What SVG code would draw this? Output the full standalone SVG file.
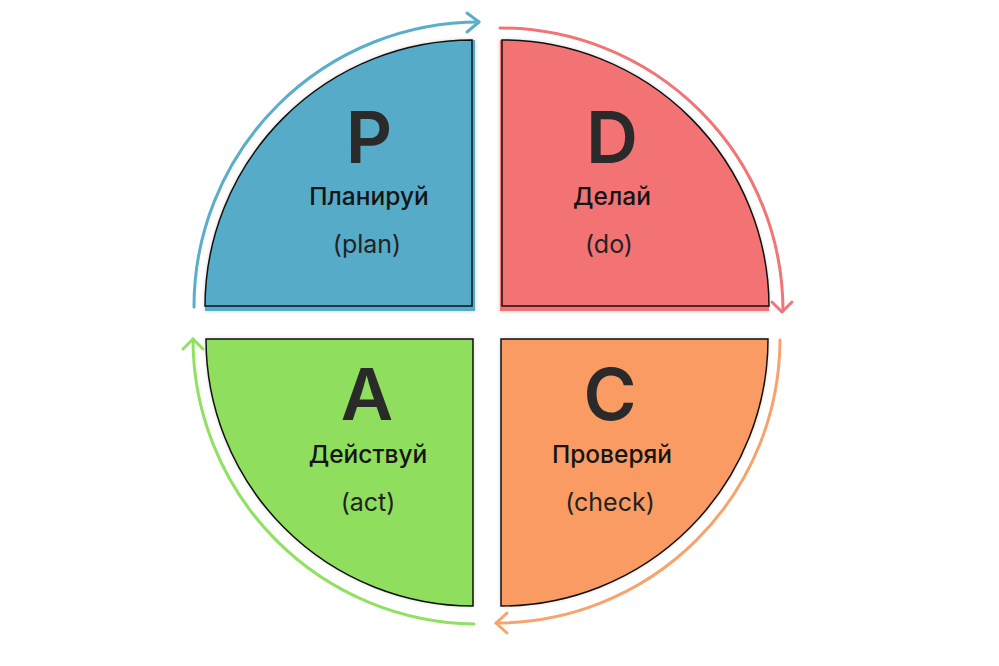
<svg xmlns="http://www.w3.org/2000/svg" width="999" height="666" viewBox="0 0 999 666">
<defs>
<filter id="sh" x="-10%" y="-10%" width="120%" height="120%">
<feDropShadow dx="0" dy="0" stdDeviation="2" flood-color="#000" flood-opacity="0.2"/>
</filter>
</defs>
<style>
.ol{fill:none;stroke:#111;stroke-width:1.5}
.big{font-family:Inter,"Liberation Sans",sans-serif;font-weight:600;font-size:72px;fill:#2a2a2a;text-anchor:middle}
.ru{font-family:Inter,"Liberation Sans",sans-serif;font-weight:500;font-size:24.5px;fill:#151515;text-anchor:middle}
.en{font-family:Inter,"Liberation Sans",sans-serif;font-weight:400;font-size:25px;fill:#222;text-anchor:middle}
.arr{fill:none;stroke-width:3;stroke-linecap:round;stroke-linejoin:round}
</style>
<rect width="999" height="666" fill="#fff"/>
<g id="node-p">
<g fill="#57abc9" filter="url(#sh)">
<path d="M472,306 L205,306 A267,267 0 0 1 472,40 Z"/>
<path d="M475,311 L205,311 L205,306 A267,267 0 0 1 475,40 Z"/>
</g>
<path class="ol" d="M472,306 L205,306 A267,267 0 0 1 472,40 Z"/>
<text class="big" x="369" y="163">P</text>
<text class="ru" x="369" y="205">Планируй</text>
<text class="en" x="367" y="253">(plan)</text>
</g>
<g id="node-d">
<g fill="#f37374" filter="url(#sh)">
<path d="M502,306 L502,40 A267,267 0 0 1 769,306 Z"/>
<path d="M500,311 L500,40 L502,40 A267,267 0 0 1 769,311 Z"/>
</g>
<path class="ol" d="M502,306 L502,40 A267,267 0 0 1 769,306 Z"/>
<text class="big" x="612" y="163">D</text>
<text class="ru" x="612" y="205">Делай</text>
<text class="en" x="609" y="253">(do)</text>
</g>
<g id="node-a">
<path fill="#8fde5d" filter="url(#sh)" d="M473,339 L206,339 A267,267 0 0 0 473,606 Z"/>
<path class="ol" d="M473,339 L206,339 A267,267 0 0 0 473,606 Z"/>
<text class="big" x="367" y="420">A</text>
<text class="ru" x="368" y="463">Действуй</text>
<text class="en" x="368" y="511">(act)</text>
</g>
<g id="node-c">
<path fill="#f99b63" filter="url(#sh)" d="M501,339 L768,339 A267,267 0 0 1 501,606 Z"/>
<path class="ol" d="M501,339 L768,339 A267,267 0 0 1 501,606 Z"/>
<text class="big" x="610" y="420">C</text>
<text class="ru" x="612" y="463">Проверяй</text>
<text class="en" x="610" y="511">(check)</text>
</g>
<g id="connectors">
<g stroke="#5aaec9" class="arr">
<path d="M194,307 A285,285 0 0 1 479,22"/>
<path d="M467,13 L479,22 L467,32"/>
</g>
<g stroke="#ef7577" class="arr">
<path d="M500,28 A283,283 0 0 1 783,311"/>
<path d="M772,302 L782,312 L792,302"/>
</g>
<g stroke="#f7a36e" class="arr">
<path d="M780,340 A284,284 0 0 1 496,623"/>
<path d="M507,613 L496,623 L507,633"/>
</g>
<g stroke="#90e062" class="arr">
<path d="M474,624 A285,285 0 0 1 193,339"/>
<path d="M183,349 L193,339 L203,349"/>
</g>
</g>
</svg>
